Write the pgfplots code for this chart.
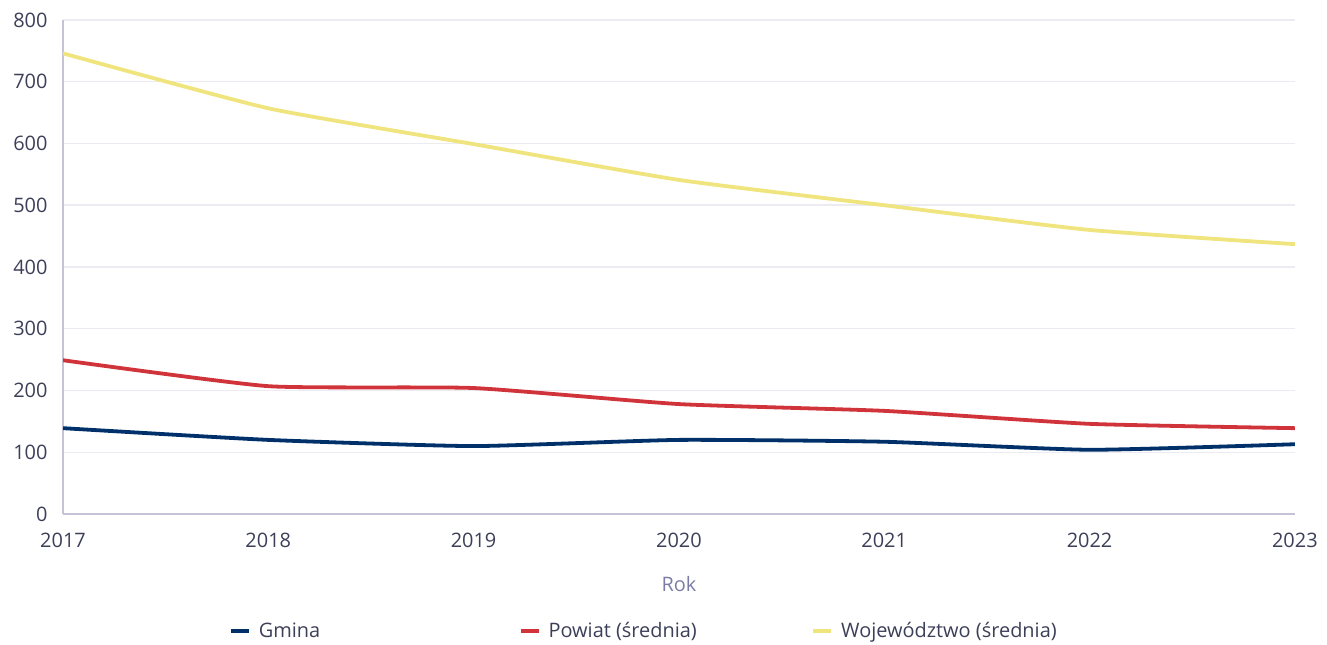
\documentclass[border=0pt]{standalone}
\usepackage{fontspec}
\setmainfont{Open Sans}
\usepackage{pgfplots}
\pgfplotsset{compat=1.18}
\usepackage{pgfplotstable}

\definecolor{gmina}{HTML}{00306A}
\definecolor{powiat}{HTML}{D0343A}
\definecolor{woj}{HTML}{F0E47E}
\definecolor{ticktext}{HTML}{3C3F58}
\definecolor{axisline}{HTML}{C4C4D6}
\definecolor{gridline}{HTML}{EBEBF1}
\definecolor{xlab}{HTML}{7C7CA6}

\pgfplotstableread{
rok gmina powiat woj
2017 139 249 746
2018 120 207 657
2019 110 204 599
2020 120 178 541
2021 117 167 500
2022 104 146 460
2023 113 139 437
}\dane

\begin{document}
\begin{tikzpicture}
\begin{axis}[
    at={(0,0)}, anchor=south west,
    scale only axis,
    width=1232bp, height=494bp,
    xmin=2017, xmax=2023,
    ymin=0, ymax=800,
    xtick={2017,...,2023},
    ytick={0,100,...,800},
    xticklabel style={/pgf/number format/1000 sep={}},
    /pgf/number format/assume math mode=true,
    tick label style={font=\fontsize{20}{24}\selectfont, text=ticktext},
    xticklabel style={yshift=-16bp},
    yticklabel style={xshift=-12bp},
    axis x line*=bottom, axis y line*=left,
    axis line style={axisline, line width=1.8bp, -},
    major tick length=0pt,
    ymajorgrids,
    grid style={gridline, line width=1.5bp},
    xlabel={Rok},
    xlabel style={font=\fontsize{20}{24}\selectfont, text=xlab, yshift=-21bp},
    legend columns=3,
    legend style={draw=none, fill=none, at={(0.1348,-0.237)}, anchor=west,
        font=\fontsize{20}{24}\selectfont, text=ticktext, inner sep=0pt,
        nodes={inner sep=0pt}},
    legend cell align=left,
    legend image code/.code={\draw[#1, line width=3.5bp] (0bp,0bp) -- (18bp,0bp);
        \path (26bp,0bp);},
    every axis plot/.append style={line width=3.8bp, smooth, tension=0.3, no markers},
]
\addplot[gmina] table[x=rok, y=gmina] {\dane};
\addplot[powiat] table[x=rok, y=powiat] {\dane};
\addplot[woj] table[x=rok, y=woj] {\dane};
\legend{\makebox[260bp][l]{Gmina}, \makebox[263bp][l]{Powiat (średnia)}, Województwo (średnia)}
\end{axis}
\pgfresetboundingbox
\useasboundingbox (-63bp,-131bp) rectangle (1264bp,514bp);
\end{tikzpicture}
\end{document}
